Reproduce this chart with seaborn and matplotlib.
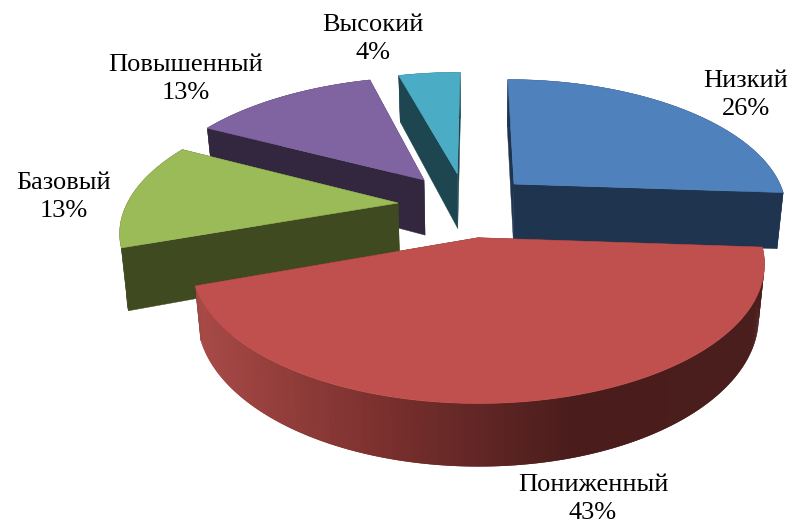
import numpy as np
import matplotlib
matplotlib.use("Agg")
import matplotlib.pyplot as plt
import seaborn as sns

categories = ["Низкий", "Пониженный", "Базовый", "Повышенный", "Высокий"]
values = [6, 10, 3, 3, 1]
top_colors = ["#4F81BD", "#C0504D", "#9BBB59", "#8064A2", "#4BACC6"]
side_colors = ["#1F344E", "#4A1E1D", "#404A20", "#32273F", "#1D4650"]

# world position of each wedge's tip, its radii and the height of its side
tip_x = [0.146, 0.01, -0.28, -0.192, -0.067]
tip_y = [0.058, -0.36, -0.097, 0.092, 0.145]
radius_x = [0.995, 0.975, 0.985, 1.015, 1.015]
radius_y = [1.04, 0.97, 1.0, 1.04, 1.04]
height = [56, 48, 58, 56, 56]
draw_order = [4, 3, 2, 0, 1]

label_pos = [(746, 95), (593, 499), (64, 197), (186, 79), (373, 39)]

sns.set_theme(style="white")
plt.rcParams["font.family"] = ["Liberation Serif", "DejaVu Serif"]

VX = 475
HORIZON = -484


def project(X, Y, drop):
    w = 1 + 0.18 * Y
    sx = VX + 270 * X / w
    sy = HORIZON + 675 / w
    scale = (sy - HORIZON) / 675
    # verticals lean in a little towards the vanishing point
    sx = VX + (sx - VX) * (1 - 0.02 * (drop > 0))
    return sx, sy + drop * scale


fig, ax = plt.subplots(figsize=(7.92, 5.26), dpi=100)
fig.subplots_adjust(0, 0, 1, 1)
ax.set_xlim(0, 792)
ax.set_ylim(526, 0)
ax.axis("off")

edges = np.cumsum([0] + values) / sum(values) * 2 * np.pi
red_side = sns.blend_palette(["#A84A47", "#7A302E", "#4A1D1C", "#4A1E1D"], 100)

for i in draw_order:
    theta = np.linspace(edges[i], edges[i + 1], 240)
    X = tip_x[i] + radius_x[i] * np.sin(theta)
    Y = tip_y[i] + radius_y[i] * np.cos(theta)
    tx, ty = project(X, Y, 0)
    bx, by = project(X, Y, height[i])
    cx, cy = project(np.array([tip_x[i]]), np.array([tip_y[i]]), 0)
    dx, dy = project(np.array([tip_x[i]]), np.array([tip_y[i]]), height[i])

    # the two flat cut faces
    for k in (0, -1):
        ax.fill([cx[0], tx[k], bx[k], dx[0]], [cy[0], ty[k], by[k], dy[0]],
                color=side_colors[i], lw=0.3)
    # the curved outer face, shaded left to right for the big wedge
    if i == 1:
        # left end of the wedge first so each strip overlaps the seam of the last
        for k in range(len(theta) - 3, -1, -1):
            pos = (bx[k] - bx.min()) / (bx.max() - bx.min())
            ax.fill([tx[k], tx[k + 2], bx[k + 2], bx[k]], [ty[k], ty[k + 2], by[k + 2], by[k]],
                    color=red_side[int(pos * 99)], lw=0)
    else:
        ax.fill(np.r_[tx, bx[::-1]], np.r_[ty, by[::-1]], color=side_colors[i], lw=0.3)
    # top face
    ax.fill(np.r_[cx, tx], np.r_[cy, ty], facecolor=top_colors[i], edgecolor=top_colors[i], lw=0.4)

total = sum(values)
for name, v, (x, y) in zip(categories, values, label_pos):
    ax.text(x, y, f"{name}\n{round(v / total * 100)}%", ha="center", va="center", fontsize=19,
            color="black", linespacing=1.38)

fig.savefig("out.png", dpi=100)
